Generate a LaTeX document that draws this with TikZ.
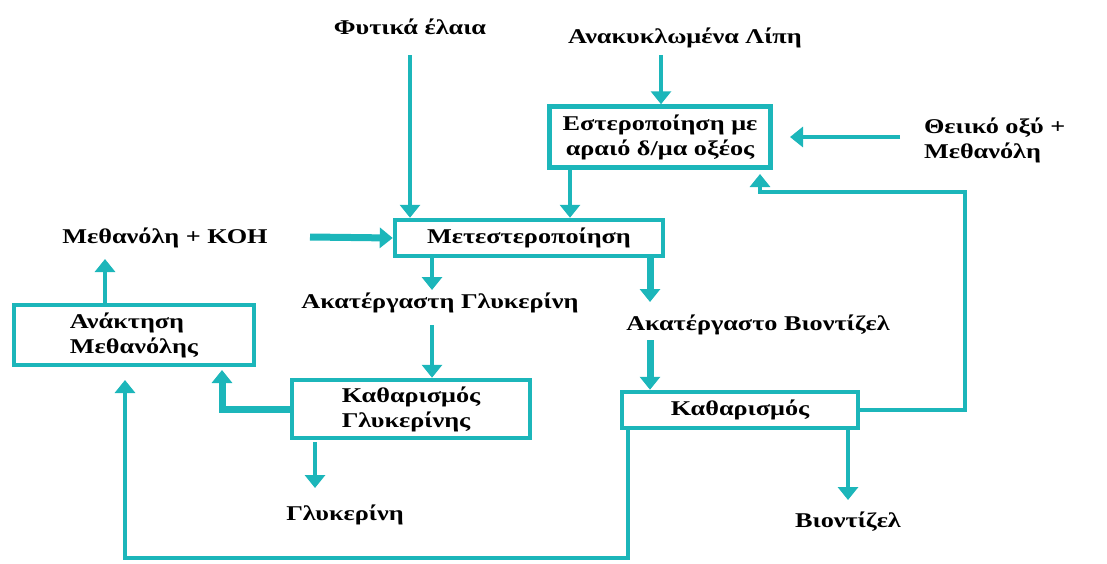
\documentclass[tikz,border=0pt]{standalone}
\usepackage{fontspec}
\setmainfont{Liberation Serif}[FakeStretch=1.25]
\usetikzlibrary{arrows.meta}
\definecolor{flowteal}{RGB}{28,182,186}

\begin{document}
\begin{tikzpicture}[x=1pt,y=-1pt,line width=4pt,
  every node/.style={font=\fontsize{21}{25}\selectfont\bfseries,inner sep=0pt},
  box/.style={draw=flowteal,line width=4.5pt,align=left},
  flow/.style={draw=flowteal,-{Triangle[width=20pt,length=13pt]}},
  heavy/.style={flow,line width=7pt}]
        \useasboundingbox (0,0) rectangle (1107,563);

        \coordinate (C11) at (410,55);
        \coordinate (C12) at (661,55);
        \coordinate (C13) at (900,137);
        \coordinate (C14) at (790,137);
        \coordinate (C15) at (570,170);
        \coordinate (C21) at (310,237);
        \coordinate (C22) at (432,290);
        \coordinate (C23) at (650,302);
        \coordinate (C31) at (432,325);
        \coordinate (C32) at (650,340);
        \coordinate (C33) at (222,370);
        \coordinate (C34) at (105,303);
        \coordinate (C35) at (105,259);
        \coordinate (C41) at (315,442);
        \coordinate (C42) at (315,488);
        \coordinate (C43) at (965,192);
        \coordinate (C44) at (760,174);
        \coordinate (C45) at (125,558);
        \coordinate (C46) at (125,380);
        \coordinate (C47) at (848,500);

        \node[box,minimum width=221pt,minimum height=61pt,align=center] (estero) at (660,137)
            {Εστεροποίηση με\\ αραιό δ/μα οξέος};
        \node[box,minimum width=268pt,minimum height=36pt] (metest) at (529,238) {Μετεστεροποίηση};
        \node[box,minimum width=240pt,minimum height=60pt] (anakt) at (134,335) {Ανάκτηση\\Μεθανόλης};
        \node[box,minimum width=238pt,minimum height=58pt] (kathgl) at (411,409) {Καθαρισμός\\Γλυκερίνης};
        \node[box,minimum width=236pt,minimum height=36pt] (kath) at (740,410) {Καθαρισμός};

        \node (fytika) at (410,27) {Φυτικά έλαια};
        \node (anakykl) at (685,38) {Ανακυκλωμένα Λίπη};
        \node[anchor=west,align=left] (theiiko) at (922,140) {Θειικό οξύ +\\Μεθανόλη};
        \node (methkoh) at (165,238) {Μεθανόλη + ΚΟΗ};
        \node (akglyk) at (440,303) {Ακατέργαστη Γλυκερίνη};
        \node (akbio) at (758,325) {Ακατέργαστο Βιοντίζελ};
        \node (glyk) at (345,515) {Γλυκερίνη};
        \node (bio) at (848,522) {Βιοντίζελ};

        \draw[flow] (C11) -- (C11 |- metest.north);
        \draw[flow] (C12) -- (C12 |- estero.north);
        \draw[flow] (C13) -- (C14);
        \draw[flow] (C15) -- (C15 |- metest.north);
        \draw[heavy] (C21) -- (metest.west);
        \draw[flow] (C22 |- metest.south) -- (C22);
        \draw[heavy] (C23 |- metest.south) -- (C23);
        \draw[flow] (C31) -- (C31 |- kathgl.north);
        \draw[heavy] (C32) -- (C32 |- kath.north);
        \draw[heavy] (kathgl.west) -| (C33);
        \draw[flow] (C34) -- (C35);
        \draw[flow] (C41) -- (C42);
        \draw[flow] (kath.east) -| (C43) -| (C44);
        \draw[flow] (kath.south west) ++(8,0) |- (C45) -- (C46);
        \draw[flow] (C47 |- kath.south) -- (C47);
    \end{tikzpicture}
\end{document}
